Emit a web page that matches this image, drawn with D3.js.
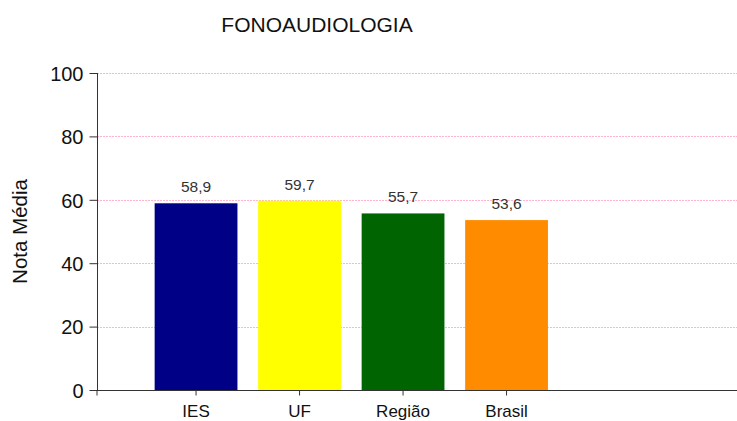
<!DOCTYPE html>
<html>
<head>
<meta charset="utf-8">
<script src="https://cdn.jsdelivr.net/npm/d3@7"></script>
<style>
  body { margin: 0; background: #fff; }
  svg { font-family: "Liberation Sans", Arial, sans-serif; }
</style>
</head>
<body>
<div id="chart"></div>
<script>
// chart data
const categories = ["IES", "UF", "Região", "Brasil"];
const values = [58.9, 59.7, 55.7, 53.6];
const barColors = ["#000087", "#ffff00", "#006400", "#ff8c00"];
const yTicks = [0, 20, 40, 60, 80, 100];

const width = 737, height = 421;
const margin = {top: 73, right: 0, bottom: 31, left: 97};

let svg = d3.select("#chart")
    .append("svg")
    .attr("width", width)
    .attr("height", height);

let y = d3.scaleLinear()
    .domain([0, 100])
    .range([height - margin.bottom, margin.top]);

let x = d3.scaleBand()
    .domain(categories)
    .range([144.3, 558.3])
    .paddingInner(0.2)
    .paddingOuter(0.1);

// grid lines (pink dotted)
svg.append("g")
    .selectAll("line")
    .data(yTicks.filter(d => d > 0))
    .enter()
    .append("line")
    .attr("x1", margin.left)
    .attr("x2", width)
    .attr("y1", d => Math.round(y(d)) + 0.5)
    .attr("y2", d => Math.round(y(d)) + 0.5)
    .attr("stroke", "#ffb4cc")
    .attr("stroke-dasharray", "2,1");

// bars
svg.append("g")
    .selectAll("rect")
    .data(values)
    .enter()
    .append("rect")
    .attr("x", (d, i) => x(categories[i]))
    .attr("y", d => y(d))
    .attr("width", x.bandwidth())
    .attr("height", d => y(0) - y(d))
    .attr("fill", (d, i) => barColors[i]);

// value labels
svg.append("g")
    .selectAll("text")
    .data(values)
    .enter()
    .append("text")
    .attr("x", (d, i) => x(categories[i]) + x.bandwidth() / 2)
    .attr("y", d => y(d) - 11)
    .attr("text-anchor", "middle")
    .style("font-size", "15.5px")
    .style("fill", "#333")
    .text(d => d3.format(".1f")(d).replace(".", ","));

// y axis
let yAxis = svg.append("g")
    .attr("transform", `translate(${margin.left + 0.5}, 0)`)
    .call(d3.axisLeft(y).tickValues(yTicks).tickSize(8).tickPadding(6));
yAxis.select(".domain").attr("stroke", "#333").attr("d", `M0,${y(100)}V${y(0)}`);
yAxis.selectAll(".tick line").attr("stroke", "#333");
yAxis.selectAll(".tick text")
    .style("font-size", "20px")
    .style("fill", "#111")
    .attr("dy", "0.36em");

// x axis
let xAxis = svg.append("g")
    .attr("transform", `translate(0, ${y(0) + 0.5})`)
    .call(d3.axisBottom(x).tickSize(5));
xAxis.select(".domain").attr("stroke", "#333").attr("d", `M${margin.left},5V0H${width}`);
xAxis.selectAll(".tick line").attr("stroke", "#333");
xAxis.selectAll(".tick text")
    .attr("y", 26)
    .attr("dy", 0)
    .style("font-size", "17px")
    .style("fill", "#111");

// axis title
svg.append("text")
    .attr("transform", `translate(27, ${(y(0) + y(100)) / 2}) rotate(-90)`)
    .attr("text-anchor", "middle")
    .style("font-size", "20.5px")
    .style("fill", "#111")
    .text("Nota Média");

// chart title
svg.append("text")
    .attr("x", 317)
    .attr("y", 32)
    .attr("text-anchor", "middle")
    .style("font-size", "21px")
    .style("fill", "#111")
    .text("FONOAUDIOLOGIA");
</script>
</body>
</html>
